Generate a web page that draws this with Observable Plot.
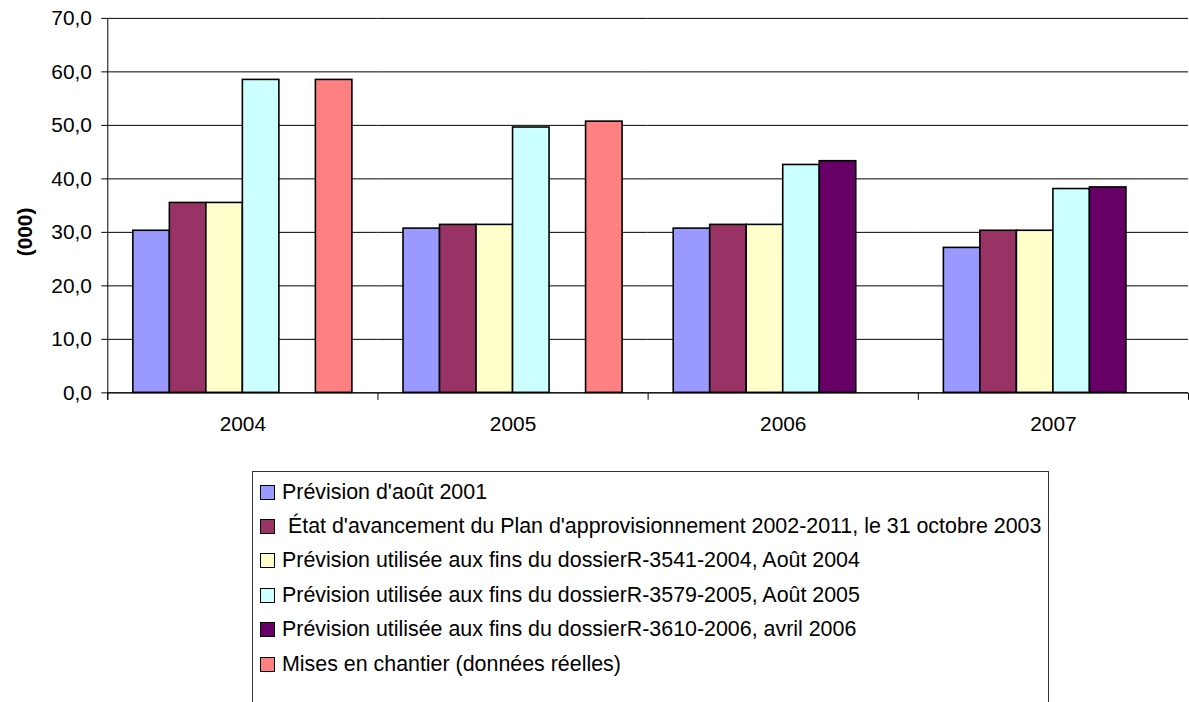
<!DOCTYPE html>
<html><head><meta charset="utf-8">
<script src="https://cdn.jsdelivr.net/npm/d3@7"></script>
<script src="https://cdn.jsdelivr.net/npm/@observablehq/plot@0.6"></script>
<style>
html,body{margin:0;padding:0;background:#fff;overflow:hidden;width:1189px;height:702px;position:relative;}
#chart svg{display:block}
#legend{position:absolute;left:252px;top:471px;width:797px;height:260px;border:1px solid #333;box-sizing:border-box;font-family:"Liberation Sans",Arial,sans-serif;font-size:21.4px;color:#000;}
.row{position:absolute;left:7px;height:24px;display:flex;align-items:center;white-space:pre;}
.sw{width:13px;height:13px;border:1.5px solid #000;margin-right:7px;flex:none;}
</style></head><body>
<div id="chart"></div><div id="legend"></div>
<script>
const years = ["2004", "2005", "2006", "2007"];
const seriesNames = [
  "Prévision d'août 2001",
  " État d'avancement du Plan d'approvisionnement 2002-2011, le 31 octobre 2003",
  "Prévision utilisée aux fins du dossierR-3541-2004, Août 2004",
  "Prévision utilisée aux fins du dossierR-3579-2005, Août 2005",
  "Prévision utilisée aux fins du dossierR-3610-2006, avril 2006",
  "Mises en chantier (données réelles)"
];
const seriesColors = ["#9999FF", "#993366", "#FFFFCC", "#CCFFFF", "#660066", "#FF8080"];
const prevision2001 = [30.3, 30.7, 30.7, 27.1];
const etat2003 = [35.5, 31.4, 31.4, 30.3];
const dossier2004 = [35.5, 31.4, 31.4, 30.3];
const dossier2005 = [58.5, 49.6, 42.6, 38.1];
const dossier2006 = [null, null, 43.3, 38.4];
const reelles = [58.5, 50.7, null, null];
const yTicks = [0, 10, 20, 30, 40, 50, 60, 70];
const yTitle = "(000)";

const seriesValues = [prevision2001, etat2003, dossier2004, dossier2005, dossier2006, reelles];
const rows = [];
years.forEach((year, i) => {
  seriesValues.forEach((vals, j) => {
    if (vals[i] != null) rows.push({year, series: seriesNames[j], value: vals[i]});
  });
});

const fontFamily = "Liberation Sans, Arial, sans-serif";
const chart = Plot.plot({
  width: 1197,
  height: 460,
  marginLeft: 106,
  marginRight: 0,
  marginTop: 18,
  marginBottom: 65,
  style: {fontFamily, fontSize: "21px", color: "#000", background: "#fff", overflow: "visible"},
  fx: {domain: years, padding: 0, label: null},
  x: {domain: seriesNames, paddingInner: 0, paddingOuter: 0.7, round: false, axis: null},
  y: {domain: [0, 70], label: null},
  color: {domain: seriesNames, range: seriesColors},
  marks: [
    Plot.ruleY(yTicks, {stroke: "#000", strokeWidth: 1}),
    Plot.barY(rows, {fx: "year", x: "series", y: "value", fill: "series", stroke: "#000", strokeWidth: 1.6}),
    Plot.ruleY([0], {stroke: "#000"}),
    Plot.axisY(yTicks, {
      tickFormat: d => d.toFixed(1).replace(".", ","),
      tickSize: 6, tickPadding: 10, fontSize: 21, label: null
    }),
    Plot.axisFx({anchor: "bottom", tickSize: 0, tickPadding: 23, fontSize: 21, label: null})
  ]
});
document.getElementById("chart").appendChild(chart);

// y axis line and category boundary ticks, placed from the plot's own scales
const fx = chart.scale("fx"), y = chart.scale("y");
const y0 = y.apply(0), yTop = y.apply(70);
const svg = d3.select(chart);
const g = svg.append("g").attr("stroke", "#000").attr("stroke-width", 1).attr("transform", "translate(0.5,0.5)");
const left = fx.apply(years[0]);
g.append("line").attr("x1", left).attr("x2", left).attr("y1", yTop).attr("y2", y0 + 7);
const bounds = years.map(d => fx.apply(d)).concat([fx.apply(years[years.length - 1]) + fx.bandwidth]);
bounds.forEach(b => g.append("line").attr("x1", b).attr("x2", b).attr("y1", y0).attr("y2", y0 + 7));

// y axis title, bold and rotated
svg.append("text")
  .attr("transform", `translate(${left - 83},${(yTop + y0) / 2 + 27}) rotate(-90)`)
  .attr("text-anchor", "middle").attr("dy", "0.35em")
  .attr("font-family", fontFamily).attr("font-size", 21).attr("font-weight", "bold")
  .attr("fill", "#000")
  .text(yTitle);

// legend
const legend = d3.select("#legend");
seriesNames.forEach((name, i) => {
  const r = legend.append("div").attr("class", "row").style("top", (8 + i * 34.4) + "px");
  r.append("div").attr("class", "sw").style("background", seriesColors[i]);
  r.append("span").text(name);
});
</script>
</body></html>
